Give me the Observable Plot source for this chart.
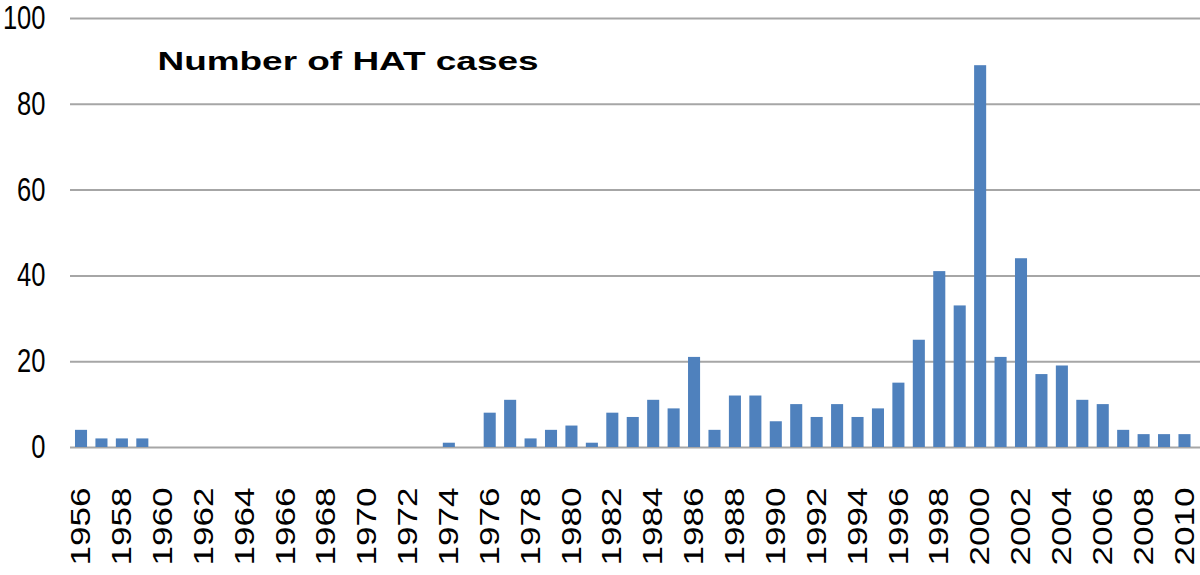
<!DOCTYPE html>
<html><head><meta charset="utf-8">
<script src="https://cdn.jsdelivr.net/npm/d3@7"></script>
<script src="https://cdn.jsdelivr.net/npm/@observablehq/plot@0.6"></script>
<style>body{margin:0;background:#fff}</style>
</head><body><div id="chart"></div>
<script>
const years = d3.range(1956, 2011);
const cases = [
  4, 2, 2, 2,                                     // 1956-1959
  0, 0, 0, 0, 0, 0, 0, 0, 0, 0, 0, 0, 0, 0,       // 1960-1973
  1, 0, 8, 11, 2, 4, 5, 1, 8, 7, 11, 9, 21, 4,    // 1974-1987
  12, 12, 6, 10, 7, 10, 7, 9, 15, 25, 41, 33,     // 1988-1999
  89, 21, 44, 17, 19, 11, 10, 4, 3, 3, 3          // 2000-2010
];
const yTicks = [0, 20, 40, 60, 80, 100];
const xTickYears = years.filter(y => y % 2 === 0);
const title = "Number of HAT cases";

const data = years.map((y, i) => ({year: y, cases: cases[i]}));

const chart = Plot.plot({
  width: 1200,
  height: 575,
  marginTop: 18,
  marginBottom: 128,
  marginLeft: 70,
  marginRight: 0,
  style: {background: "#fff", color: "#000"},
  x: {type: "band", domain: years, range: [70.8, 1194.7], round: false, paddingInner: 0.41, paddingOuter: 0.205, label: null},
  y: {domain: [0, 100], label: null},
  marks: [
    Plot.ruleY(yTicks, {stroke: "#a6a6a6", strokeWidth: 2}),
    Plot.barY(data, {x: "year", y: "cases", fill: "#4f81bd"}),
    Plot.axisX({ticks: xTickYears, tickSize: 0, tickPadding: 40, tickRotate: -90, fontSize: 27, fontFamily: "Liberation Sans, Arial, sans-serif", fill: "#000", label: null, tickFormat: d => String(d)}),
    Plot.axisY({ticks: yTicks, tickSize: 0, tickPadding: 25, fontSize: 33, fontFamily: "Liberation Sans Narrow, Liberation Sans, sans-serif", fill: "#000", label: null}),
    Plot.text([title], {frameAnchor: "top-left", dx: 87, dy: 43, lineAnchor: "middle", textAnchor: "start", fontSize: 25, fontWeight: "bold", fontFamily: "Liberation Sans, Arial, sans-serif", fill: "#000"})
  ]
});
document.getElementById("chart").appendChild(chart);

chart.querySelectorAll('g[aria-label="x-axis tick label"] text').forEach(t => {
  t.setAttribute("textLength", 78);
  t.setAttribute("lengthAdjust", "spacingAndGlyphs");
});
chart.querySelectorAll('g[aria-label="y-axis tick label"] text').forEach(t => {
  t.setAttribute("textLength", t.textContent.length * 14.2);
  t.setAttribute("lengthAdjust", "spacingAndGlyphs");
});
chart.querySelectorAll('text').forEach(t => {
  if (t.textContent === title) {
    t.setAttribute("textLength", 381);
    t.setAttribute("lengthAdjust", "spacingAndGlyphs");
  }
});
</script>
</body></html>
